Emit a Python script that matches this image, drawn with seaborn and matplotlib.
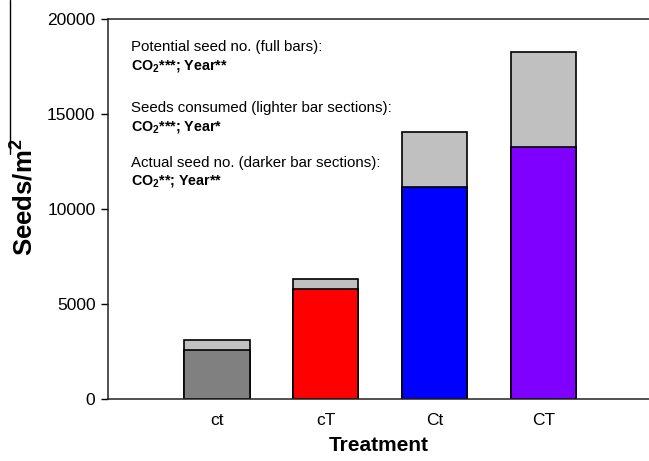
import matplotlib
matplotlib.use("Agg")
import matplotlib.pyplot as plt
import seaborn as sns
import pandas as pd
from matplotlib.lines import Line2D

treatments = ["ct", "cT", "Ct", "CT"]
potential_seeds = [3100, 6300, 14050, 18280]   # full bars
actual_seeds = [2580, 5800, 11160, 13280]      # darker sections
dark_colors = ["#808080", "#ff0000", "#0000ff", "#7f00ff"]
light_color = "#c0c0c0"

sns.set_style("ticks")
plt.rcParams['font.family'] = ['Liberation Sans', 'DejaVu Sans']
plt.rcParams['mathtext.fontset'] = 'custom'
plt.rcParams['mathtext.rm'] = 'Liberation Sans'
plt.rcParams['mathtext.bf'] = 'Liberation Sans:bold'
plt.rcParams['text.color'] = 'black'
plt.rcParams['axes.labelcolor'] = 'black'
plt.rcParams['xtick.color'] = 'black'
plt.rcParams['ytick.color'] = 'black'

df = pd.DataFrame({"treatment": treatments,
                   "potential": potential_seeds,
                   "actual": actual_seeds})

fig = plt.figure(figsize=(6.49, 4.61), dpi=100)
ax = fig.add_axes([0.1664, 0.1345, 0.8336, 0.8243])

sns.barplot(data=df, x="treatment", y="potential", color=light_color,
            saturation=1, width=0.6, edgecolor="black", linewidth=1.2, ax=ax)
sns.barplot(data=df, x="treatment", y="actual", hue="treatment",
            palette=dark_colors, saturation=1, width=0.6, legend=False,
            edgecolor="black", linewidth=1.2, ax=ax)

ax.set_xlim(-1, 3.97)
ax.set_ylim(0, 20000)
ax.set_yticks([0, 5000, 10000, 15000, 20000])
ax.tick_params(axis="y", direction="out", length=5, width=1, labelsize=12.5, pad=4)
ax.tick_params(axis="x", length=0, labelsize=12.5, pad=10)
ax.spines["right"].set_visible(False)
for s in ["left", "top", "bottom"]:
    ax.spines[s].set_linewidth(1.1)
    ax.spines[s].set_color("#222222")

ax.set_xlabel("Treatment", fontsize=15, fontweight="bold", labelpad=6)
ax.set_ylabel(r"Seeds/m$^\mathbf{2}$", fontsize=18.5, fontweight="bold")
ax.yaxis.set_label_coords(-0.131, 0.53)

# statistics annotations
notes = [
    (0.926, "Potential seed no. (full bars):", "normal"),
    (0.876, r"$\mathbf{CO_2}$***; Year**", "bold"),
    (0.766, "Seeds consumed (lighter bar sections):", "normal"),
    (0.716, r"$\mathbf{CO_2}$***; Year*", "bold"),
    (0.621, "Actual seed no. (darker bar sections):", "normal"),
    (0.574, r"$\mathbf{CO_2}$**; Year**", "bold"),
]
for yy, txt, w in notes:
    ax.text(0.043, yy, txt, transform=ax.transAxes,
            fontsize=10.8 if w == "normal" else 10.3,
            fontweight=w, va="center", ha="left")

# stray line at the left edge of the original figure
fig.add_artist(Line2D([0.0155, 0.0155], [1.0, 0.665], color="black", linewidth=1))

plt.savefig("out.png", dpi=100)
